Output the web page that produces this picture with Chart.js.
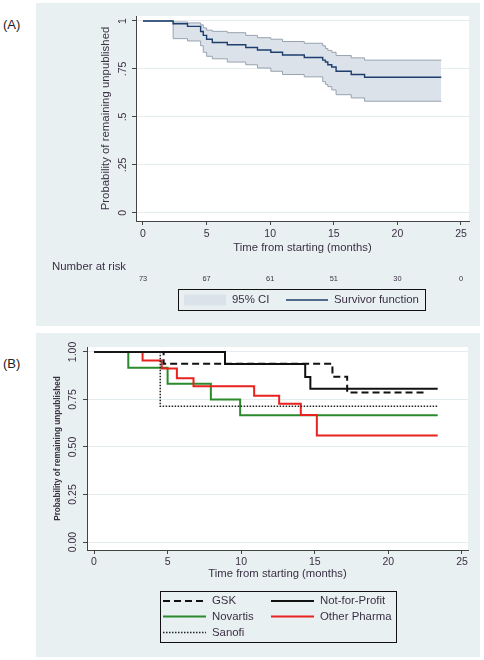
<!DOCTYPE html>
<html>
<head>
<meta charset="utf-8">
<script src="https://cdn.jsdelivr.net/npm/chart.js@4.4.0/dist/chart.umd.min.js"></script>
<style>
  body { margin: 0; background: #fff; width: 484px; height: 660px; position: relative; overflow: hidden; font-family: "Liberation Sans", Arial, sans-serif; }
  .panel { position: absolute; left: 36px; width: 444px; background: #e9f0f2; }
  .panel canvas { display: block; }
  #panelA { top: 3px; height: 323px; }
  #panelB { top: 333px; height: 324px; }
  .tag { position: absolute; left: 3px; font-size: 13px; color: #222; }
</style>
</head>
<body>
<div class="tag" style="top:17px">(A)</div>
<div class="tag" style="top:356px">(B)</div>
<div class="panel" id="panelA"><canvas id="chartA" width="444" height="323"></canvas></div>
<div class="panel" id="panelB"><canvas id="chartB" width="444" height="324"></canvas></div>
<script>
const FONT = '"Liberation Sans", Arial, sans-serif';
const INK = '#3a3044';

// axis ticks shared by both panels
const xTicks = [0, 5, 10, 15, 20, 25];
const yTicks = [0, 0.25, 0.5, 0.75, 1];
const yLabelsA = ['0', '.25', '.5', '.75', '1'];
const yLabelsB = ['0.00', '0.25', '0.50', '0.75', '1.00'];

// (A) overall survivor function with 95% CI
const kmTimes = [0, 2.37, 3.5, 4.53, 4.74, 5.0, 5.45, 6.63, 8.08, 9.0, 10.05, 10.97, 12.68, 14.13, 14.34, 14.53, 14.84, 15.18, 16.37, 17.42, 23.45];
const kmSurv  = [1, 0.986, 0.972, 0.945, 0.925, 0.905, 0.888, 0.876, 0.862, 0.849, 0.837, 0.823, 0.81, 0.796, 0.786, 0.772, 0.76, 0.738, 0.721, 0.707, 0.707];
const kmUpper = [1, 0.995, 0.99, 0.98, 0.964, 0.952, 0.946, 0.939, 0.925, 0.913, 0.905, 0.893, 0.884, 0.871, 0.857, 0.847, 0.837, 0.82, 0.808, 0.796, 0.796];
const kmLower = [1, 0.908, 0.896, 0.871, 0.837, 0.816, 0.803, 0.786, 0.772, 0.755, 0.738, 0.721, 0.709, 0.684, 0.67, 0.658, 0.641, 0.616, 0.599, 0.582, 0.582];
const riskTimes = [0, 5, 10, 15, 20, 25];
const riskCounts = [73, 67, 61, 51, 30, 0];

// (B) by sponsor
const gskTimes = [0, 4.73, 16.2, 17.2, 22.4];
const gskSurv  = [1, 0.9375, 0.87, 0.787, 0.787];
const nfpTimes = [0, 8.9, 14.35, 14.7, 23.35];
const nfpSurv  = [1, 0.937, 0.868, 0.807, 0.807];
const novTimes = [0, 2.33, 5.0, 7.94, 9.93, 23.35];
const novSurv  = [1, 0.917, 0.833, 0.75, 0.667, 0.667];
const othTimes = [0, 3.3, 4.6, 5.63, 6.76, 10.88, 12.58, 14.05, 15.14, 23.35];
const othSurv  = [1, 0.955, 0.913, 0.861, 0.819, 0.769, 0.727, 0.668, 0.561, 0.561];
const sanTimes = [0, 4.5, 23.35];
const sanSurv  = [1, 0.714, 0.714];

const pts = (t, s) => t.map((x, i) => ({x, y: s[i]}));

const plotBg = {
  id: 'plotBg',
  beforeDraw(chart) {
    const {ctx, chartArea: a} = chart;
    ctx.save();
    ctx.fillStyle = '#fff';
    ctx.fillRect(a.left, a.top, a.width, a.height);
    ctx.restore();
  }
};

// "Number at risk" row under the x axis
function riskRow(times, counts, pos) {
  return {
    id: 'riskRow',
    afterDraw(chart) {
      const ctx = chart.ctx;
      const x = chart.scales.x;
      ctx.save();
      ctx.fillStyle = INK;
      ctx.textBaseline = 'middle';
      ctx.textAlign = 'left';
      ctx.font = `11.4px ${FONT}`;
      ctx.fillText('Number at risk', pos.titleX, pos.titleY);
      ctx.font = `7.4px ${FONT}`;
      ctx.textAlign = 'center';
      times.forEach((t, i) => ctx.fillText(String(counts[i]), x.getPixelForValue(t), pos.y));
      ctx.restore();
    }
  };
}

// boxed legend in columns, styles read from the datasets
function boxLegend(entries, box) {
  return {
    id: 'boxLegend',
    afterDraw(chart) {
      const ctx = chart.ctx;
      const cols = box.colX.length;
      ctx.save();
      ctx.strokeStyle = '#111';
      ctx.lineWidth = 1;
      ctx.strokeRect(box.left + 0.5, box.top + 0.5, box.width, box.height);
      entries.forEach((e, i) => {
        const ds = chart.data.datasets[e.index];
        const x = box.colX[i % cols];
        const y = box.rowY[Math.floor(i / cols)];
        if (e.area) {
          ctx.fillStyle = ds.backgroundColor;
          ctx.fillRect(x, y - 5.5, box.swatch, 11);
        } else {
          ctx.strokeStyle = ds.borderColor;
          ctx.lineWidth = ds.borderWidth;
          ctx.setLineDash(ds.borderDash || []);
          ctx.beginPath();
          ctx.moveTo(x, y);
          ctx.lineTo(x + box.swatch, y);
          ctx.stroke();
          ctx.setLineDash([]);
        }
        ctx.fillStyle = INK;
        ctx.font = `11.4px ${FONT}`;
        ctx.textAlign = 'left';
        ctx.textBaseline = 'middle';
        ctx.fillText(ds.label, x + box.swatch + 6, y);
      });
      ctx.restore();
    }
  };
}

function kmChart(id, datasets, cfg) {
  return new Chart(document.getElementById(id), {
    type: 'line',
    data: { datasets },
    options: {
      responsive: false,
      animation: false,
      events: [],
      layout: { padding: cfg.padding },
      elements: { point: { radius: 0 }, line: { stepped: true, tension: 0 } },
      plugins: { legend: { display: false }, tooltip: { enabled: false } },
      scales: {
        x: {
          type: 'linear',
          min: cfg.xMin,
          max: cfg.xMax,
          afterBuildTicks: s => { s.ticks = xTicks.map(v => ({value: v})); },
          afterFit: s => { s.height = cfg.xHeight; },
          grid: { drawOnChartArea: false, tickLength: 4, tickColor: '#444' },
          border: { color: '#444' },
          ticks: { padding: cfg.xTickPad, maxRotation: 0, color: INK, font: { family: FONT, size: 10.5 } },
          title: {
            display: true, text: 'Time from starting (months)', color: INK,
            font: { family: FONT, size: 11.3, lineHeight: 1.2 },
            padding: { top: 0, bottom: cfg.xTitlePad }
          }
        },
        y: {
          min: -0.042,
          max: 1.026,
          afterBuildTicks: s => { s.ticks = yTicks.map(v => ({value: v})); },
          afterFit: s => { s.width = cfg.yWidth; },
          grid: { color: '#e4ecef', tickLength: 4, tickColor: '#444' },
          border: { color: '#444' },
          ticks: {
            minRotation: 90, maxRotation: 90, crossAlign: 'center', padding: cfg.yTickPad,
            color: INK, font: { family: FONT, size: 10.5 },
            callback: v => cfg.yLabels[yTicks.indexOf(v)]
          },
          title: {
            display: true, text: 'Probability of remaining unpublished', color: INK,
            font: cfg.yTitleFont,
            padding: { top: cfg.yTitlePad, bottom: 0 }
          }
        }
      }
    },
    plugins: [plotBg].concat(cfg.extra)
  });
}

const datasetsA = [
  { label: 'Survivor function', data: pts(kmTimes, kmSurv), borderColor: '#1d3f6e', borderWidth: 1.4, fill: false },
  { label: 'upper', data: pts(kmTimes, kmUpper), borderColor: '#97a3b0', borderWidth: 1, fill: false },
  { label: '95% CI', data: pts(kmTimes, kmLower), borderColor: '#97a3b0', borderWidth: 1, fill: 1, backgroundColor: '#dce2ea' }
];

kmChart('chartA', datasetsA, {
  padding: { left: 0, right: 11, top: 13, bottom: 0 },
  xMin: -0.55, xMax: 25.63, xHeight: 105, xTickPad: 3, xTitlePad: 71,
  yWidth: 100, yTickPad: 1.7, yLabels: yLabelsA, yTitlePad: 63,
  yTitleFont: { family: FONT, size: 11.4, lineHeight: 1.2 },
  extra: [
    riskRow(riskTimes, riskCounts, { titleX: 16, titleY: 264, y: 276 }),
    boxLegend([{ index: 2, area: true }, { index: 0 }],
      { left: 142, top: 286, width: 247, height: 21, colX: [148, 250], rowY: [297], swatch: 42 })
  ]
});

const datasetsB = [
  { label: 'Sanofi', data: pts(sanTimes, sanSurv), borderColor: '#222', borderWidth: 1.5, borderDash: [1.5, 1.5], fill: false },
  { label: 'GSK', data: pts(gskTimes, gskSurv), borderColor: '#111', borderWidth: 2, borderDash: [7, 4], fill: false },
  { label: 'Not-for-Profit', data: pts(nfpTimes, nfpSurv), borderColor: '#111', borderWidth: 2, fill: false },
  { label: 'Other Pharma', data: pts(othTimes, othSurv), borderColor: '#e8221f', borderWidth: 2, fill: false },
  { label: 'Novartis', data: pts(novTimes, novSurv), borderColor: '#2b8a2b', borderWidth: 2, fill: false }
];

kmChart('chartB', datasetsB, {
  padding: { left: 0, right: 12, top: 14, bottom: 0 },
  xMin: -0.476, xMax: 25.41, xHeight: 107, xTickPad: 2, xTitlePad: 76,
  yWidth: 51, yTickPad: 0, yLabels: yLabelsB, yTitlePad: 17,
  yTitleFont: { family: FONT, size: 8.2, weight: 'bold', lineHeight: 1.2 },
  extra: [
    boxLegend([{ index: 1 }, { index: 2 }, { index: 4 }, { index: 3 }, { index: 0 }],
      { left: 124, top: 258, width: 236, height: 51, colX: [127, 235], rowY: [268, 283.5, 299.5], swatch: 43 })
  ]
});
</script>
</body>
</html>
